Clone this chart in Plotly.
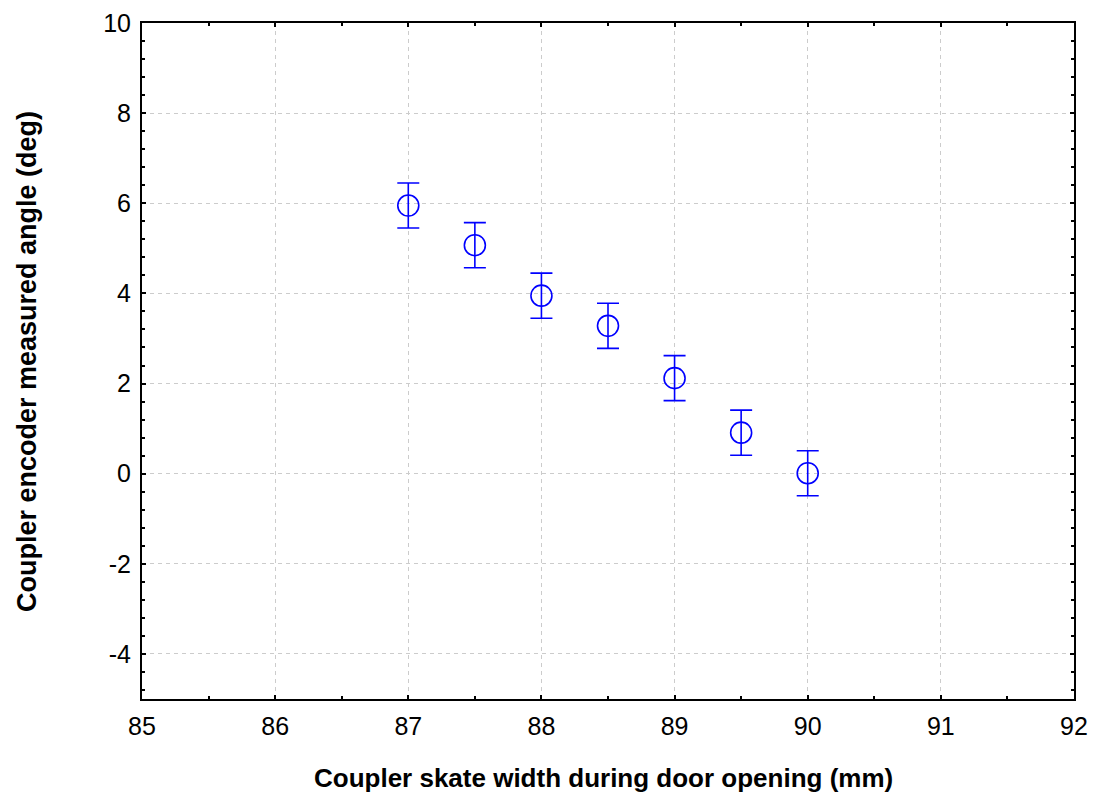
import plotly.graph_objects as go

skate_width = [87.0, 87.5, 88.0, 88.5, 89.0, 89.5, 90.0]
angle = [5.95, 5.07, 3.95, 3.28, 2.12, 0.91, 0.01]
err = [0.5, 0.5, 0.5, 0.5, 0.5, 0.5, 0.5]

y_tickvals = [-4, -2, 0, 2, 4, 6, 8, 10]
y_ticktext = ["-4", "-2", "0", "2", "4", "6", "8", "10"]

fig = go.Figure()
fig.add_trace(go.Scatter(
    x=skate_width, y=angle, mode="markers",
    marker=dict(symbol="circle-open", size=21, color="#0000FF", line=dict(width=1.6, color="#0000FF")),
    error_y=dict(type="data", array=err, visible=True, color="#0000FF", thickness=1.6, width=11),
    showlegend=False,
))

family = "Liberation Sans, Arial, sans-serif"
tick_font = dict(family=family, size=25, color="black")
axis_common = dict(
    showline=True, linecolor="black", linewidth=2, mirror="allticks",
    ticks="inside", ticklen=4, tickwidth=1.5, tickcolor="black",
    showgrid=True, gridcolor="#cccccc", griddash="4px,4px", gridwidth=1,
    zeroline=False, tickfont=tick_font, automargin=False, ticklabelstandoff=4,
)
fig.update_xaxes(range=[85, 92], dtick=1, tick0=85,
                 minor=dict(dtick=0.5, ticks="inside", ticklen=3, tickcolor="black", tickwidth=1.5, showgrid=False),
                 **axis_common)
fig.update_yaxes(range=[-5, 10], tickmode="array", tickvals=y_tickvals, ticktext=y_ticktext,
                 minor=dict(tickmode="linear", dtick=0.4, tick0=0, ticks="inside", ticklen=3, tickcolor="black", tickwidth=1.5, showgrid=False),
                 **axis_common)
fig.add_annotation(text="<b>Coupler skate width during door opening (mm)</b>",
                   xref="paper", yref="paper", x=0.495, y=-(778 - 699) / 676, yanchor="middle",
                   showarrow=False, font=dict(family=family, size=26, color="black"))
fig.add_annotation(text="<b>Coupler encoder measured angle (deg)</b>",
                   xref="paper", yref="paper", x=-(142 - 27) / 932, y=(699 - 362) / 676,
                   xanchor="center", yanchor="middle", textangle=-90,
                   showarrow=False, font=dict(family=family, size=27, color="black"))
fig.update_layout(
    width=1093, height=794,
    margin=dict(l=142, r=19, t=23, b=95),
    plot_bgcolor="white", paper_bgcolor="white",
    font=tick_font,
)
fig.write_html("out.html", config={"displayModeBar": False},
               post_script="document.body.style.margin='0';")
